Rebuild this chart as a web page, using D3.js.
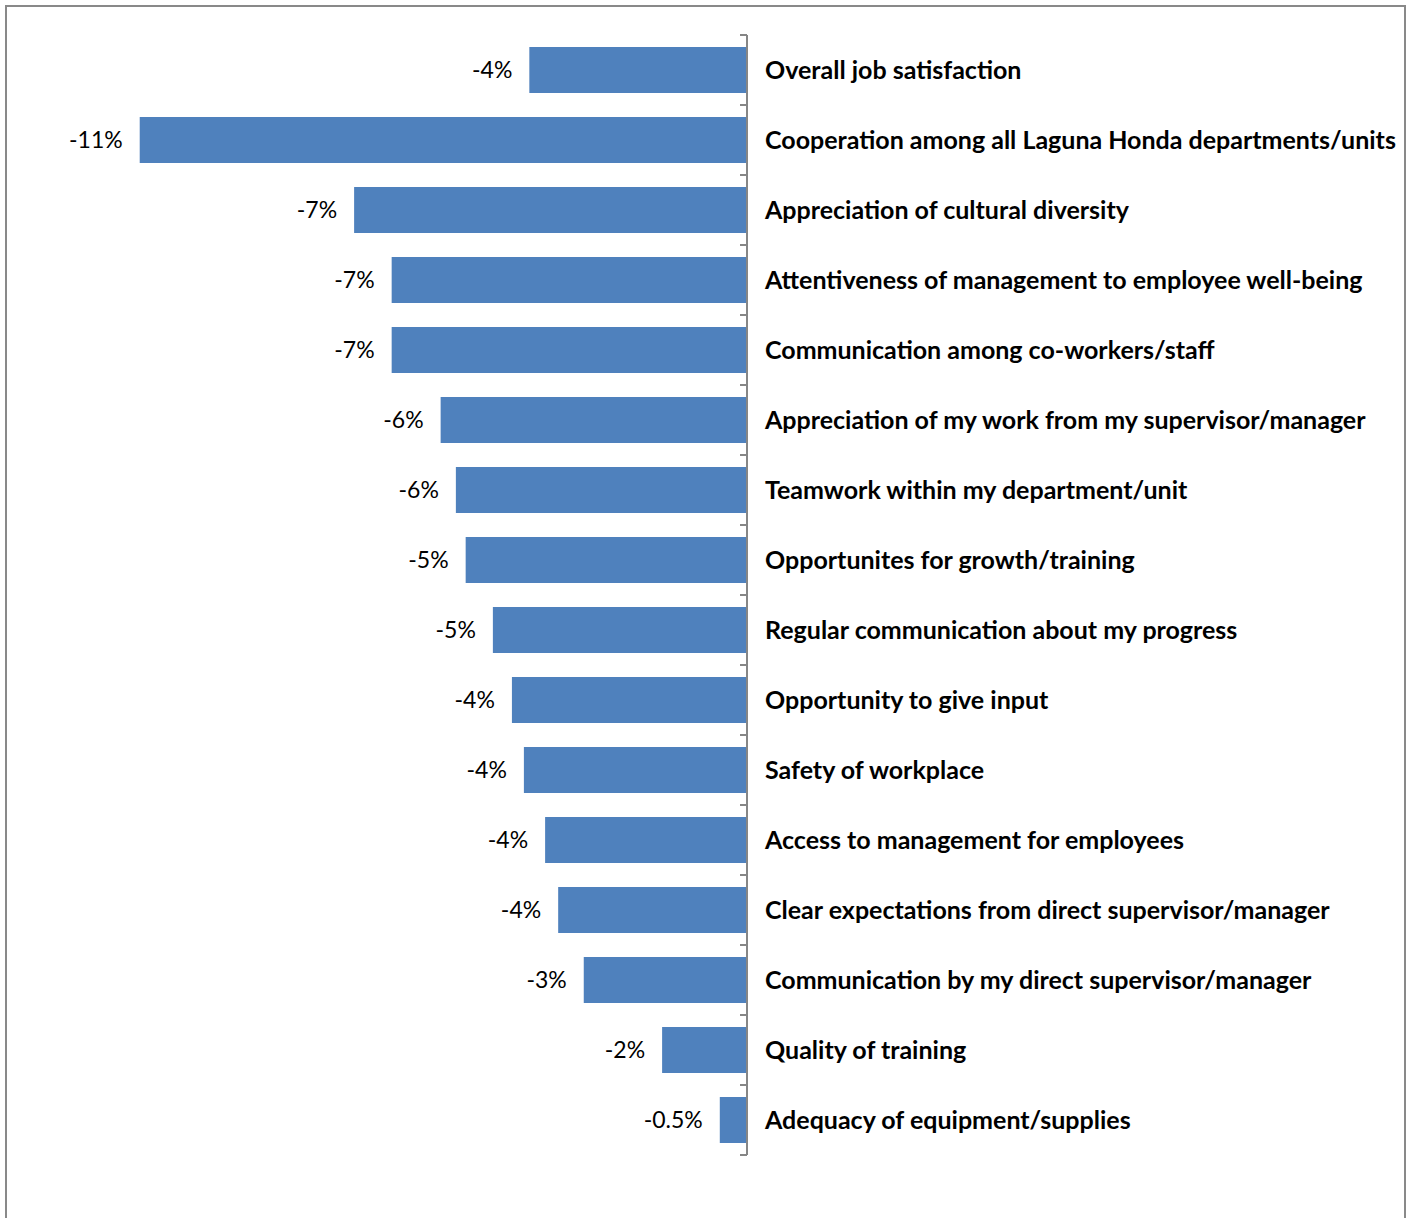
<!DOCTYPE html>
<html>
<head>
<meta charset="utf-8">
<script src="https://cdn.jsdelivr.net/npm/d3@7"></script>
<style>
  html, body { margin: 0; padding: 0; background: #fff; }
  svg { display: block; }
</style>
</head>
<body>
<svg id="chart" width="1409" height="1218"></svg>
<script>
const categories = [
  "Overall job satisfaction",
  "Cooperation among all Laguna Honda departments/units",
  "Appreciation of cultural diversity",
  "Attentiveness of management to employee well-being",
  "Communication among co-workers/staff",
  "Appreciation of my work from my supervisor/manager",
  "Teamwork within my department/unit",
  "Opportunites for growth/training",
  "Regular communication about my progress",
  "Opportunity to give input",
  "Safety of workplace",
  "Access to management for employees",
  "Clear expectations from direct supervisor/manager",
  "Communication by my direct supervisor/manager",
  "Quality of training",
  "Adequacy of equipment/supplies"
];
const values = [-4.0, -11.16, -7.22, -6.53, -6.53, -5.63, -5.35, -5.17, -4.67, -4.32, -4.10, -3.71, -3.47, -3.0, -1.56, -0.5];
const valueLabels = ["-4%", "-11%", "-7%", "-7%", "-7%", "-6%", "-6%", "-5%", "-5%", "-4%", "-4%", "-4%", "-4%", "-3%", "-2%", "-0.5%"];
const xDomain = [-12, 0];

const data = categories.map((c, i) => ({ cat: c, value: values[i], label: valueLabels[i] }));

const svg = d3.select("#chart");

// outer border
svg.append("rect")
  .attr("x", 6).attr("y", 6)
  .attr("width", 1399).attr("height", 1240)
  .attr("fill", "none")
  .attr("stroke", "#898989")
  .attr("stroke-width", 2);

const x = d3.scaleLinear().domain(xDomain).range([94, 747]);
const y = d3.scaleBand().domain(categories).range([35, 1155]).paddingInner(0.343).paddingOuter(0.343 / 2);

// bars
svg.append("g").selectAll("rect")
  .data(data).join("rect")
  .attr("x", d => x(d.value))
  .attr("y", d => y(d.cat))
  .attr("width", d => x(0) - x(d.value))
  .attr("height", y.bandwidth())
  .attr("fill", "#4f81bd");

// value labels
svg.append("g").selectAll("text")
  .data(data).join("text")
  .attr("x", d => x(d.value) - 17)
  .attr("y", d => y(d.cat) + y.bandwidth() / 2)
  .attr("dy", "0.35em")
  .attr("text-anchor", "end")
  .attr("font-family", "Lato, 'Open Sans', sans-serif")
  .attr("font-size", 23)
  .attr("fill", "#000")
  .text(d => d.label);

// axis: vertical line with ticks at band boundaries (pointing left)
const boundaries = d3.range(categories.length + 1).map(i => 35 + i * (1120 / categories.length));
const axisG = svg.append("g");
axisG.append("line")
  .attr("x1", x(0)).attr("x2", x(0))
  .attr("y1", 35).attr("y2", 1155)
  .attr("stroke", "#868686").attr("stroke-width", 2);
axisG.selectAll("line.tick")
  .data(boundaries).join("line")
  .attr("class", "tick")
  .attr("x1", x(0) - 7).attr("x2", x(0))
  .attr("y1", d => d).attr("y2", d => d)
  .attr("stroke", "#868686").attr("stroke-width", 2);

// category labels
svg.append("g").selectAll("text")
  .data(data).join("text")
  .attr("x", x(0) + 18)
  .attr("y", d => y(d.cat) + y.bandwidth() / 2)
  .attr("dy", "0.35em")
  .attr("font-family", "Lato, 'Open Sans', sans-serif")
  .attr("font-weight", "bold")
  .attr("font-size", 25)
  .attr("fill", "#000")
  .text(d => d.cat);
</script>
</body>
</html>
